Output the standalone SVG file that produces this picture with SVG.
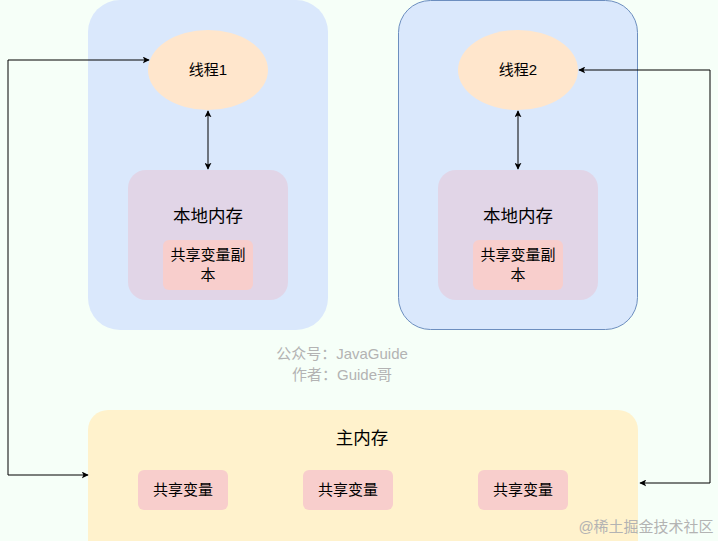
<svg xmlns="http://www.w3.org/2000/svg" width="718" height="541" viewBox="0 0 718 541">
<defs>
<style>
text{font-family:"Liberation Sans","Noto Sans CJK SC",sans-serif;text-anchor:middle;fill:#000}
.t18{font-size:17.5px}
.t15{font-size:15px}
.wm{font-size:15px;fill:#b3b3b3}
.line{fill:none;stroke:#000;stroke-width:1}
</style>
<marker id="ah" viewBox="0 0 10 10" refX="9" refY="5" markerWidth="7" markerHeight="7" orient="auto-start-reverse" markerUnits="userSpaceOnUse">
<path d="M0,0 L10,5 L0,10 L2.5,5 z" fill="#000"/>
</marker>
</defs>
<rect width="718" height="541" fill="#f6fff8"/>
<g id="thread1-container">
<rect x="88" y="0" width="240" height="330" rx="32" fill="#dae8fc"/>
</g>
<g id="thread2-container">
<rect x="398.5" y="0.5" width="239" height="329" rx="32" fill="#dae8fc" stroke="#6c8ebf"/>
</g>
<g id="thread1">
<ellipse cx="208" cy="70" rx="60" ry="40" fill="#ffe6cc"/>
<text class="t15" x="208" y="75">线程1</text>
</g>
<g id="thread2">
<ellipse cx="518" cy="70" rx="60" ry="40" fill="#ffe6cc"/>
<text class="t15" x="518" y="75">线程2</text>
</g>
<g id="local1">
<rect x="128" y="170" width="160" height="130" rx="18" fill="#e1d5e7"/>
<text class="t18" x="208" y="222">本地内存</text>
</g>
<g id="copy1">
<rect x="163" y="240" width="90" height="50" rx="6" fill="#f8cecc"/>
<text class="t15" x="208" y="260">共享变量副</text>
<text class="t15" x="208" y="280">本</text>
</g>
<g id="local2">
<rect x="438" y="170" width="160" height="130" rx="18" fill="#e1d5e7"/>
<text class="t18" x="518" y="222">本地内存</text>
</g>
<g id="copy2">
<rect x="473" y="240" width="90" height="50" rx="6" fill="#f8cecc"/>
<text class="t15" x="518" y="260">共享变量副</text>
<text class="t15" x="518" y="280">本</text>
</g>
<g id="main-memory">
<rect x="88" y="410" width="550" height="150" rx="20" fill="#fff2cc"/>
<text class="t18" x="362" y="444">主内存</text>
</g>
<g id="var1">
<rect x="138" y="470" width="90" height="40" rx="6" fill="#f8cecc"/>
<text class="t15" x="183" y="495">共享变量</text>
</g>
<g id="var2">
<rect x="303" y="470" width="90" height="40" rx="6" fill="#f8cecc"/>
<text class="t15" x="348" y="495">共享变量</text>
</g>
<g id="var3">
<rect x="478" y="470" width="90" height="40" rx="6" fill="#f8cecc"/>
<text class="t15" x="523" y="495">共享变量</text>
</g>
<g id="connectors">
<path class="line" d="M208,111 L208,169" marker-start="url(#ah)" marker-end="url(#ah)"/>
<path class="line" d="M518,111 L518,169" marker-start="url(#ah)" marker-end="url(#ah)"/>
<path class="line" d="M88,475 L8,475 L8,60 L149,60" marker-start="url(#ah)" marker-end="url(#ah)"/>
<path class="line" d="M640,483 L710,483 L710,70 L579,70" marker-start="url(#ah)" marker-end="url(#ah)"/>
</g>
<g id="watermarks">
<text class="wm" x="342" y="359">公众号：JavaGuide</text>
<text class="wm" x="342" y="380">作者：Guide哥</text>
<text class="wm" x="646" y="532">@稀土掘金技术社区</text>
</g>
</svg>
